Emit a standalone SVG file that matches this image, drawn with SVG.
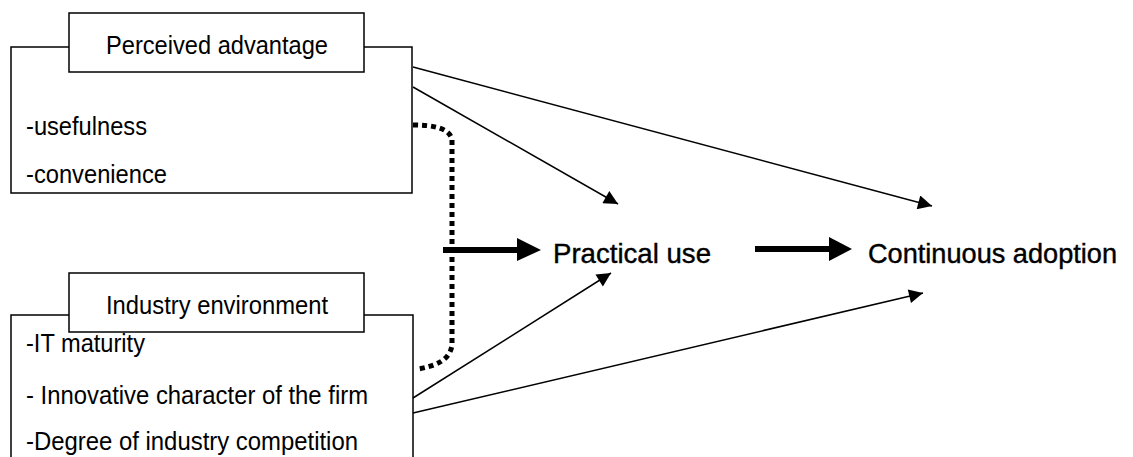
<svg xmlns="http://www.w3.org/2000/svg" width="1133" height="457" viewBox="0 0 1133 457">
<style>
.frame{fill:none;stroke:#000;stroke-width:1.5}
.box{fill:#fff;stroke:#000;stroke-width:1.5}
.t{font-family:"Liberation Sans",Arial,sans-serif;font-size:25px;fill:#000}
.big{font-family:"Liberation Sans",Arial,sans-serif;font-size:27.5px;fill:#000;stroke:#000;stroke-width:0.4}
.conn{fill:none;stroke:#000;stroke-width:1.5}
.thick{fill:none;stroke:#000;stroke-width:6}
.dot{fill:none;stroke:#000;stroke-width:5;stroke-dasharray:5 4}
</style>
<defs>
<marker id="ah" viewBox="0 0 10 10" refX="10" refY="5" markerUnits="userSpaceOnUse" markerWidth="17" markerHeight="14" orient="auto">
<path d="M0,0 L10,5 L0,10 Z" fill="#000"/>
</marker>
</defs>
<rect width="1133" height="457" fill="#fff"/>
<g id="perceived-advantage">
<path class="frame" d="M69,47 H11 V193 H412 V47 H364"/>
<rect class="box" x="69" y="13" width="295" height="59"/>
<text class="t" x="106" y="54" textLength="222" lengthAdjust="spacingAndGlyphs">Perceived advantage</text>
<text class="t" x="26" y="135" textLength="121" lengthAdjust="spacingAndGlyphs">-usefulness</text>
<text class="t" x="26" y="183" textLength="141" lengthAdjust="spacingAndGlyphs">-convenience</text>
</g>
<g id="industry-environment">
<path class="frame" d="M69,315 H11 V460 M413,460 V315 H364"/>
<rect class="box" x="69" y="273" width="295" height="59"/>
<text class="t" x="106" y="314" textLength="222" lengthAdjust="spacingAndGlyphs">Industry environment</text>
<text class="t" x="26" y="352" textLength="119" lengthAdjust="spacingAndGlyphs">-IT maturity</text>
<text class="t" x="26" y="404" textLength="342" lengthAdjust="spacingAndGlyphs">- Innovative character of the firm</text>
<text class="t" x="26" y="450" textLength="332" lengthAdjust="spacingAndGlyphs">-Degree of industry competition</text>
</g>
<g id="practical-use">
<text class="big" x="553" y="263" textLength="158" lengthAdjust="spacingAndGlyphs">Practical use</text>
</g>
<g id="continuous-adoption">
<text class="big" x="868" y="263" textLength="249" lengthAdjust="spacingAndGlyphs">Continuous adoption</text>
</g>
<g id="connectors">
<line class="conn" x1="413" y1="67" x2="932" y2="206" marker-end="url(#ah)"/>
<line class="conn" x1="413" y1="87" x2="618" y2="204" marker-end="url(#ah)"/>
<line class="conn" x1="413" y1="398" x2="611" y2="273" marker-end="url(#ah)"/>
<line class="conn" x1="413" y1="413" x2="923" y2="293" marker-end="url(#ah)"/>
<path class="dot" d="M413,125 C436,125 450,129 452,140 L452,345 C450,360 436,366 418,369"/>
<line class="thick" x1="443" y1="250" x2="520" y2="250"/>
<path d="M517,238 L541,250 L517,261 Z" fill="#000"/>
<line class="thick" x1="755" y1="249" x2="832" y2="249"/>
<path d="M829,237 L852,249 L829,261 Z" fill="#000"/>
</g>
</svg>
